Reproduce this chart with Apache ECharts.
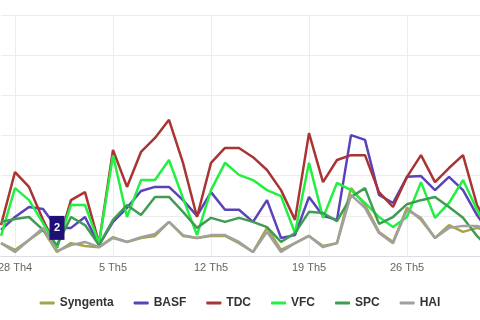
<!DOCTYPE html>
<html>
<head>
<meta charset="utf-8">
<script src="https://cdn.jsdelivr.net/npm/echarts@6/dist/echarts.min.js"></script>
<style>
html,body{margin:0;padding:0;background:#fff;}
#chart{width:480px;height:320px;}
</style>
</head>
<body>
<div id="chart"></div>
<script>
const dates = ['27 Th4','28 Th4','29 Th4','30 Th4','1 Th5','2 Th5','3 Th5','4 Th5','5 Th5','6 Th5','7 Th5','8 Th5','9 Th5','10 Th5','11 Th5','12 Th5','13 Th5','14 Th5','15 Th5','16 Th5','17 Th5','18 Th5','19 Th5','20 Th5','21 Th5','22 Th5','23 Th5','24 Th5','25 Th5','26 Th5','27 Th5','28 Th5','29 Th5','30 Th5','31 Th5','1 Th6'];
const labelDates = ['28 Th4','5 Th5','12 Th5','19 Th5','26 Th5'];
const seriesNames = ['Syngenta','BASF','TDC','VFC','SPC','HAI'];
const syngenta = [3.2,1.5,4.0,6.5,1.0,3.2,2.5,2.2,4.7,3.5,4.5,5.0,8.5,5.0,4.5,5.0,5.0,3.2,1.0,7.0,1.5,3.2,5.0,2.5,3.2,16.9,12.7,6.0,3.5,12.0,9.0,4.5,7.7,6.0,7.0,6.0];
const basf = [6.5,9.7,12.2,11.7,7.0,7.0,9.7,2.7,8.5,12.0,16.2,17.2,17.2,13.9,10.0,15.9,11.5,11.5,8.5,13.9,4.5,5.2,14.7,10.0,9.0,30.1,28.9,15.2,13.2,19.7,19.9,16.4,19.7,16.4,10.2,5.2];
const tdc = [7.7,20.9,17.2,9.0,2.0,13.9,15.9,3.2,26.4,17.2,25.9,29.4,33.9,23.2,9.7,23.2,26.9,26.9,24.6,21.4,16.4,9.0,30.6,18.4,23.9,25.1,25.1,15.9,12.2,19.7,25.1,18.4,21.9,25.1,12.7,6.5];
const vfc = [5.0,16.9,13.9,8.2,2.2,12.7,12.7,3.2,25.1,9.7,18.9,18.9,23.9,14.4,5.2,16.4,23.2,20.2,18.9,16.4,14.9,5.7,23.2,9.5,18.2,16.4,13.2,9.7,7.2,9.7,18.4,9.5,13.2,18.9,11.5,5.2];
const spc = [8.5,9.2,9.7,6.5,2.7,9.7,7.7,2.7,9.0,12.7,10.2,14.7,14.7,11.0,7.0,9.5,8.5,9.5,8.5,7.2,3.5,5.7,11.0,10.7,8.7,14.7,16.9,8.0,9.7,12.9,13.9,14.7,12.2,9.5,5.0,1.5];
const hai = [3.2,1.0,4.0,7.0,1.2,2.7,3.5,2.2,4.5,3.5,4.7,5.5,8.5,5.2,4.5,5.2,5.2,3.5,1.0,6.0,1.0,3.2,5.0,2.2,3.2,15.2,12.0,5.7,3.2,11.5,9.5,4.5,7.0,7.5,7.5,6.5];
const flagIndex = 4;
const flagText = '2';

const colors = ['#a6a34a','#5a42b8','#a83434','#22f040','#3f9c52','#a0a0a0'];
const allData = [syngenta, basf, tdc, vfc, spc, hai];

const showIdx = (i) => labelDates.indexOf(dates[i]) >= 0;

const series = seriesNames.map((name, i) => {
  const s = {
    name: name,
    type: 'line',
    data: allData[i],
    symbol: 'none',
    smooth: false,
    lineStyle: { width: 2.5, color: colors[i] },
    itemStyle: { color: colors[i] },
    z: 2 + i
  };
  if (name === 'BASF') {
    s.markPoint = {
      symbol: 'rect',
      symbolSize: [15, 24],
      itemStyle: { color: '#1e1078' },
      label: { show: true, color: '#fff', fontSize: 11, fontWeight: 'bold', formatter: flagText },
      data: [{ coord: [dates[flagIndex], basf[flagIndex]] }],
      z: 20
    };
  }
  return s;
});

const chart = echarts.init(document.getElementById('chart'));
chart.setOption({
  animation: false,
  color: colors,
  grid: { left: 1, right: -11, top: 15, bottom: 64, containLabel: false, outerBoundsMode: 'none' },
  legend: {
    data: seriesNames,
    top: 292,
    left: 'center',
    itemGap: 20,
    itemWidth: 15,
    itemHeight: 3,
    icon: 'roundRect',
    textStyle: { fontSize: 12, fontWeight: 'bold', color: '#333', fontFamily: 'Liberation Sans, Arial, sans-serif' }
  },
  xAxis: {
    type: 'category',
    data: dates,
    boundaryGap: false,
    axisLine: { lineStyle: { color: '#dcdce4' } },
    axisTick: { show: false },
    axisLabel: {
      interval: (i) => showIdx(i),
      color: '#666',
      fontSize: 11,
      margin: 6,
      fontFamily: 'Liberation Sans, Arial, sans-serif'
    },
    splitLine: { show: true, interval: (i) => showIdx(i), lineStyle: { color: '#ececec', width: 1 } }
  },
  yAxis: {
    type: 'value',
    min: 0,
    max: 60,
    interval: 10,
    axisLabel: { show: false },
    axisLine: { show: false },
    axisTick: { show: false },
    splitLine: { lineStyle: { color: '#ececec', width: 1 } }
  },
  series: series
});
</script>
</body>
</html>
